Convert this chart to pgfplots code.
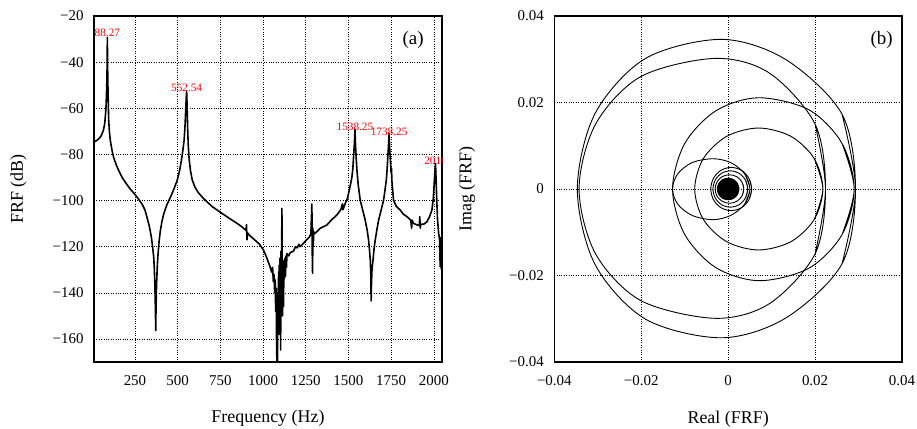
\documentclass[border=0pt]{standalone}
\usepackage{pgfplots}
\pgfplotsset{compat=1.18}
\usepackage{fontspec}
\setmainfont{Liberation Serif}
\begin{document}
\begin{tikzpicture}[x=1bp,y=1bp]
\useasboundingbox (0,0) rectangle (917,428);
\pgfplotsset{
  myax/.style={
    scale only axis,
    height=346bp,
    axis line style={line width=1.3bp},
    grid=major,
    grid style={dotted, black, line width=0.6bp},
    major tick length=0pt,
    scaled ticks=false,
    tick label style={font=\fontsize{15}{18}\selectfont},
    label style={font=\fontsize{18}{21}\selectfont},
    xticklabel style={yshift=-10bp},
    yticklabel style={xshift=-7bp},
  },
}
\begin{axis}[myax, at={(94bp,66bp)}, anchor=south west, width=348bp,
  xmin=10, xmax=2048, ymin=-170, ymax=-20,
  xtick={250,500,750,1000,1250,1500,1750,2000},
  xticklabels={250,500,750,1000,1250,1500,1750,2000},
  ytick={-160,-140,-120,-100,-80,-60,-40,-20},
  yticklabels={−160,−140,−120,−100,−80,−60,−40,−20},
  xlabel={Frequency (Hz)}, ylabel={FRF (dB)},
  xlabel style={at={(axis description cs:0.5,0)}, anchor=base, yshift=-60bp},
  ylabel style={at={(axis description cs:-0.217,0.5)}, anchor=center}]
\addplot[black, no markers, line width=1.6bp, line join=round] coordinates {
(10,-75) (14,-74.5) (25,-74) (37,-73.3) (50,-72.2) (57,-71.1) (65,-69.5) (72.5,-66.8) (77,-63) (80.3,-59.6) (83,-54) (85,-49) (86.5,-43) (87.5,-36) (88.27,-29.2) (89,-36) (90,-43) (91.5,-50) (93.5,-57) (96,-65) (100,-70) (105.7,-74) (115,-78) (125,-81.3) (140,-84.5) (154.6,-87) (175,-90) (193.6,-92.1) (220,-94.8) (248,-97.2) (270,-99.3) (291,-101.5) (308,-104) (320.6,-107.3) (335,-111.5) (346,-115.9) (354,-120.5) (359.7,-124.6) (363,-129) (365.6,-134.7) (368,-141) (370,-149) (371.4,-156.4) (373,-148) (375,-140) (377.3,-134.7) (381,-128) (385.1,-123.2) (391,-117.8) (398.8,-113) (408,-109) (418.3,-105.8) (437,-101.8) (457.4,-98.6) (477,-95.2) (496.5,-91.4) (510,-87.5) (521.8,-82.7) (530,-78.5) (537.5,-74) (542,-69) (545.3,-64) (548,-59) (550.5,-55) (552.54,-52.7) (554.5,-57) (556.5,-63) (559,-70) (562,-76) (567,-82) (575,-87) (585,-91) (600,-94) (620,-96.5) (650,-99) (700,-102.5) (748,-105) (800,-107.6) (850,-110) (880,-111.6) (900,-113) (903,-110.5) (906,-117) (909,-114) (920,-115) (950,-117) (980,-119) (1002,-121.4) (1020,-124.5) (1041,-128.7)
(1050,-131) (1056,-129) (1060,-135) (1064,-132) (1068,-140) (1071,-134.4) (1074,-148) (1077,-138) (1079,-160) (1081,-170) (1083,-155) (1085,-170) (1087,-140) (1089,-152) (1091,-131) (1093,-145) (1095,-128) (1097,-158) (1099,-125) (1101,-139) (1103,-164.8) (1105,-122) (1107,-131) (1109,-121) (1110.5,-103.4) (1112,-128) (1114,-150) (1116,-136) (1118,-126) (1120,-146) (1122,-128) (1125,-134) (1128,-125) (1131,-133) (1134,-124) (1137,-129) (1140,-123) (1150,-124) (1160,-122.5) (1178,-122) (1190,-120) (1200,-120.5) (1210,-119) (1217,-120) (1237,-118.5) (1255,-117) (1270,-116) (1280,-114.5) (1284,-106) (1286,-101.5) (1288,-122) (1290,-131.5) (1292,-112) (1294,-120) (1297,-113.5) (1300,-114.5) (1315,-113.5) (1335,-112) (1374,-110.6) (1400,-108.5) (1432,-106.3) (1455,-104) (1465,-101.5) (1468,-104) (1480,-101.5) (1495,-98.8) (1505,-95.5) (1515,-92) (1520,-90) (1526,-86) (1531,-80) (1535,-75) (1538.25,-69.2) (1541.5,-76) (1545,-81) (1550,-87) (1557,-93) (1569,-99.8) (1583,-104) (1598,-108.4) (1610,-113) (1618,-117.1) (1624,-122) (1628,-125.8) (1631,-132) (1633,-143.5) (1635,-136) (1638,-130) (1644,-125.8) (1650,-121) (1657,-117.1) (1667,-112.5) (1677,-108.4) (1692,-104) (1706,-99.8) (1715,-95) (1722,-91) (1726,-87) (1730,-82) (1734,-77) (1738.25,-70.9) (1742,-78) (1746,-83) (1750,-88) (1752,-86) (1755,-92) (1764,-99.8) (1780,-102.5) (1803,-104.1) (1820,-105.8) (1843,-107) (1865,-108.5) (1870,-112) (1873,-108.5) (1881,-109.9) (1900,-110.5) (1915,-110.8) (1918,-107) (1921,-112) (1924,-110.2) (1940,-110.3) (1960,-109.2) (1975,-107) (1989,-104.1) (1997,-99) (2002,-93) (2006,-88) (2010,-83.9) (2013,-90) (2016,-97) (2019,-103) (2022,-108.4) (2028,-114) (2034,-117.1) (2036,-125) (2038,-128.7) (2040,-116) (2042,-124) (2045,-130)
};
\begin{scope}[every node/.style={red, font=\fontsize{11.3}{13}\selectfont, anchor=south, inner sep=0pt}]
\node at (axis cs:88.27,-29.2) {88.27};
\node at (axis cs:552.54,-52.7) {552.54};
\node at (axis cs:1538.25,-70) {1538.25};
\node at (axis cs:1738.25,-72) {1738.25};
\node at (axis cs:2010,-84.5) {2010};
\end{scope}
\node[font=\fontsize{19}{22}\selectfont] at (rel axis cs:0.917,0.931) {(a)};
\end{axis}

\begin{axis}[myax, at={(554.3bp,66bp)}, anchor=south west, width=347.7bp,
  xmin=-0.04, xmax=0.04, ymin=-0.04, ymax=0.04,
  xtick={-0.04,-0.02,0,0.02,0.04}, xticklabels={−0.04,−0.02,0,0.02,0.04},
  ytick={-0.04,-0.02,0,0.02,0.04}, yticklabels={−0.04,−0.02,0,0.02,0.04},
  xlabel={Real (FRF)}, ylabel={Imag (FRF)},
  xlabel style={at={(axis description cs:0.5,0)}, anchor=base, yshift=-61bp},
  ylabel style={at={(axis description cs:-0.251,0.5)}, anchor=center}]
% loop A
\addplot[black, no markers, line width=0.9bp, smooth, tension=0.53] coordinates {(0.0262,-0.0173) (0.0293,0) (0.0262,0.0173) (0.0133,0.0299) (-0.0015,0.0346) (-0.0190,0.0302) (-0.0306,0.0175) (-0.0347,0) (-0.0306,-0.0175) (-0.0190,-0.0301) (-0.0015,-0.0344) (0.0133,-0.0298) (0.0262,-0.0173) (0.0293,0) (0.0262,0.0173)};
% loop B
\addplot[black, no markers, line width=0.9bp, smooth, tension=0.53] coordinates {(0.0200,-0.015) (0.0224,0) (0.0200,0.015) (0.0095,0.0268) (-0.003,0.0302) (-0.0201,0.026) (-0.0305,0.015) (-0.0343,0) (-0.0305,-0.015) (-0.0201,-0.0258) (-0.003,-0.0299) (0.0095,-0.0265) (0.0200,-0.015) (0.0224,0) (0.0200,0.015)};
% loop C
\addplot[black, no markers, line width=0.9bp, smooth, tension=0.53] coordinates {(0.0262,-0.01055) (0.029,0) (0.0262,0.01055) (0.0186,0.0183) (0.0070,0.0211) (-0.0028,0.0181) (-0.0100,0.0105) (-0.0128,0) (-0.0100,-0.0105) (-0.0028,-0.0182) (0.0072,-0.0212) (0.0186,-0.0183) (0.0262,-0.01055) (0.029,0) (0.0262,0.01055)};
% loop D
\addplot[black, no markers, line width=0.9bp, smooth, tension=0.53] coordinates {(0.0198,-0.00705) (0.0218,0) (0.0198,0.00705) (0.0144,0.0122) (0.007,0.0141) (-0.0003,0.0122) (-0.0057,0.00705) (-0.0077,0) (-0.0057,-0.00705) (-0.0003,-0.0122) (0.007,-0.0141) (0.0144,-0.0122) (0.0198,-0.00705) (0.0218,0) (0.0198,0.00705)};
% loop E
\addplot[black, no markers, line width=0.9bp, smooth, tension=0.53] coordinates {(0.0038,-0.0035) (0.005,0) (0.0038,0.0035) (0.0006,0.0061) (-0.0035,0.007) (-0.0083,0.0061) (-0.0116,0.0035) (-0.0128,0) (-0.0116,-0.0035) (-0.0083,-0.0061) (-0.0035,-0.0071) (0.0006,-0.0061) (0.0038,-0.0035) (0.005,0) (0.0038,0.0035)};
% rings
\addplot[black, no markers, line width=0.9bp, smooth, tension=0.53] coordinates {(0.00477,-0.0025) (0.0054,0) (0.00477,0.0025) (0.00305,0.00433) (0.0007,0.005) (-0.00165,0.00433) (-0.00337,0.0025) (-0.004,0) (-0.00337,-0.0025) (-0.00165,-0.00433) (0.0007,-0.005) (0.00305,-0.00433) (0.00477,-0.0025) (0.0054,0) (0.00477,0.0025)};
\addplot[black, no markers, line width=0.9bp, smooth, tension=0.53] coordinates {(0.00396,-0.0021) (0.0045,0) (0.00396,0.0021) (0.0025,0.00364) (0.0005,0.0042) (-0.0015,0.00364) (-0.00296,0.0021) (-0.0035,0) (-0.00296,-0.0021) (-0.0015,-0.00364) (0.0005,-0.0042) (0.0025,-0.00364) (0.00396,-0.0021) (0.0045,0) (0.00396,0.0021)};
\addplot[black, no markers, line width=0.9bp, smooth, tension=0.53] coordinates {(0.00316,-0.00165) (0.0036,0) (0.00316,0.00165) (0.00195,0.00286) (0.0003,0.0033) (-0.00135,0.00286) (-0.00256,0.00165) (-0.003,0) (-0.00256,-0.00165) (-0.00135,-0.00286) (0.0003,-0.0033) (0.00195,-0.00286) (0.00316,-0.00165) (0.0036,0) (0.00316,0.00165)};
% dense centre
\addplot[black, no markers, line width=0.9bp, fill=black, smooth, tension=0.53] coordinates {(0.0025,0) (0.00217,0.00125) (0.00125,0.00217) (0,0.0025) (-0.00125,0.00217) (-0.00217,0.00125) (-0.0025,0) (-0.00217,-0.00125) (-0.00125,-0.00217) (0,-0.0025) (0.00125,-0.00217) (0.00217,-0.00125) (0.0025,0)};
\node[font=\fontsize{19}{22}\selectfont] at (rel axis cs:0.9416,0.931) {(b)};
\end{axis}
\end{tikzpicture}
\end{document}
